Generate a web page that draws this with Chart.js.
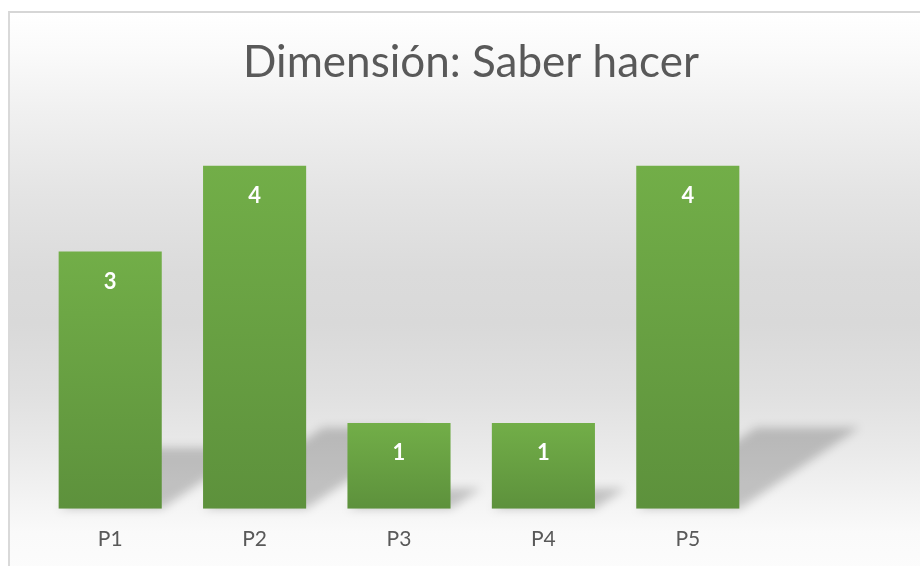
<!DOCTYPE html>
<html><head><meta charset="utf-8">
<script src="https://cdn.jsdelivr.net/npm/chart.js@4.4.0/dist/chart.umd.min.js"></script>
<style>
html,body{margin:0;padding:0;background:#fff;overflow:hidden;width:920px;height:566px;}
#frame{position:absolute;left:8px;top:11px;width:1000px;height:600px;border-left:2px solid #d9d9d9;border-top:2px solid #d6d6d6;
background:linear-gradient(to bottom,#ffffff 0px,#fafafa 40px,#f0f0f0 100px,#e4e4e4 180px,#dbdbdb 260px,#d9d9d9 310px,#e0e0e0 380px,#eaeaea 440px,#f4f4f4 490px,#fafafa 520px,#fcfcfc 560px);}
#wrap{position:absolute;left:0;top:0;width:920px;height:566px;overflow:hidden;}
</style></head>
<body><div id="frame"></div><div id="wrap"><canvas id="c" width="920" height="585"></canvas></div>
<script>
const categories = ['P1','P2','P3','P4','P5'];
const values = [3,4,1,1,4];
const titleText = 'Dimensión: Saber hacer';

const shadowPlugin = {
  id:'barShadow',
  beforeDatasetsDraw(chart){
    const ctx = chart.ctx;
    const meta = chart.getDatasetMeta(0);
    ctx.save();
    ctx.filter = 'blur(5px)';
    ctx.fillStyle = 'rgba(0,0,0,0.2)';
    meta.data.forEach(el=>{
      const h = el.base - el.y;
      const l = el.x - el.width/2, r = el.x + el.width/2;
      const dx = 0.35*h, dy = 0.237*h;
      ctx.beginPath();
      ctx.moveTo(l, el.base);
      ctx.lineTo(r, el.base);
      ctx.lineTo(r+dx, el.base-dy);
      ctx.lineTo(l+dx, el.base-dy);
      ctx.closePath();
      ctx.fill();
    });
    ctx.restore();
  }
};
const labelPlugin = {
  id:'valueLabels',
  afterDatasetsDraw(chart){
    const ctx = chart.ctx;
    const meta = chart.getDatasetMeta(0);
    ctx.save();
    ctx.font = 'bold 22px Lato';
    ctx.fillStyle = '#ffffff';
    ctx.textAlign = 'center';
    ctx.textBaseline = 'middle';
    meta.data.forEach((el,i)=>{
      ctx.fillText(String(values[i]), el.x, el.y + 30);
    });
    ctx.restore();
  }
};

new Chart(document.getElementById('c'), {
  type:'bar',
  data:{
    labels: categories,
    datasets:[{
      data: values,
      barPercentage: 1,
      categoryPercentage: 0.714,
      borderWidth: 0,
      backgroundColor: (c)=>{
        const chart = c.chart;
        if (!chart.chartArea || c.type !== 'data') return '#68a143';
        const ys = chart.scales.y;
        const top = ys.getPixelForValue(c.parsed.y);
        const bot = ys.getPixelForValue(0);
        const g = chart.ctx.createLinearGradient(0, top, 0, bot);
        g.addColorStop(0, '#72ae48');
        g.addColorStop(1, '#5d913c');
        return g;
      }
    }]
  },
  options:{
    responsive:false,
    animation:false,
    devicePixelRatio:1,
    layout:{padding:{left:38,right:16,top:0,bottom:15}},
    plugins:{
      legend:{display:false},
      tooltip:{enabled:false},
      title:{display:true,text:titleText,color:'#595959',
        font:{family:'Lato',size:44,weight:'normal'},
        padding:{top:36,bottom:34}}
    },
    scales:{
      x:{grid:{display:false,drawTicks:false},border:{display:false},
         ticks:{color:'#595959',font:{family:'Lato',size:21},padding:18}},
      y:{display:true,position:'right',min:0,max:4.5,
         grid:{display:false,drawTicks:false},border:{display:false},
         ticks:{display:false},
         afterFit(s){ s.width = 144; }}
    }
  },
  plugins:[shadowPlugin,labelPlugin]
});
</script>
</body></html>
